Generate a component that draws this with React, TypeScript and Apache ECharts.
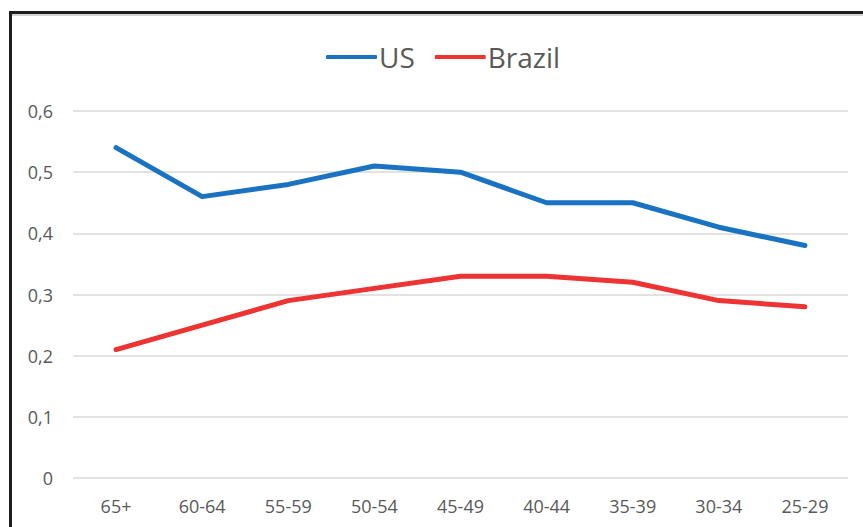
import React, { useEffect, useRef } from "react";
import * as echarts from "echarts";

const categories = ["65+", "60-64", "55-59", "50-54", "45-49", "40-44", "35-39", "30-34", "25-29"];
const usValues = [0.54, 0.46, 0.48, 0.51, 0.5, 0.45, 0.45, 0.41, 0.38];
const brazilValues = [0.21, 0.25, 0.29, 0.31, 0.33, 0.33, 0.32, 0.29, 0.28];
const seriesNames = ["US", "Brazil"];

export default function App() {
  const ref = useRef<HTMLDivElement>(null);
  useEffect(() => {
    if (!ref.current) return;
    const chart = echarts.init(ref.current, null, { renderer: "svg" });
    const font = "'Open Sans', 'Noto Sans', sans-serif";
    chart.setOption({
      animation: false,
      backgroundColor: "#ffffff",
      textStyle: { fontFamily: font },
      graphic: [
        { type: "rect", shape: { x: 9, y: 14, width: 860, height: 2 }, style: { fill: "#d4d4d4" }, silent: true },
        { type: "rect", shape: { x: 9, y: 11, width: 860, height: 3 }, style: { fill: "#1e1e1e" }, silent: true },
        { type: "rect", shape: { x: 9, y: 11, width: 3, height: 530 }, style: { fill: "#1e1e1e" }, silent: true },
      ],
      legend: {
        top: 38,
        left: 321,
        itemWidth: 51,
        itemHeight: 4,
        itemGap: 20,
        icon: "roundRect",
        textStyle: { fontSize: 28, color: "#595959", fontFamily: font, padding: [0, 0, 0, -3] },
        data: seriesNames,
      },
      grid: { left: 73, right: 15, top: 111, bottom: 49, containLabel: false },
      xAxis: {
        type: "category",
        data: categories,
        boundaryGap: true,
        axisLine: { show: false },
        axisTick: { show: false },
        axisLabel: { fontSize: 18, color: "#595959", margin: 19, fontFamily: font },
      },
      yAxis: {
        type: "value",
        min: 0,
        max: 0.6,
        interval: 0.1,
        axisLine: { show: false },
        axisTick: { show: false },
        splitLine: { lineStyle: { color: "#d9d9d9", width: 1.5 } },
        axisLabel: {
          fontSize: 18,
          color: "#595959",
          margin: 20,
          fontFamily: font,
          formatter: (v: number) => (v === 0 ? "0" : v.toFixed(1).replace(".", ",")),
        },
      },
      series: [
        {
          name: seriesNames[0],
          type: "line",
          data: usValues,
          symbol: "none",
          lineStyle: { color: "#1a72c2", width: 5, cap: "round", join: "round" },
          itemStyle: { color: "#1a72c2" },
        },
        {
          name: seriesNames[1],
          type: "line",
          data: brazilValues,
          symbol: "none",
          lineStyle: { color: "#ee3333", width: 5, cap: "round", join: "round" },
          itemStyle: { color: "#ee3333" },
        },
      ],
    });
    return () => chart.dispose();
  }, []);
  return (
    <div
      ref={ref}
      style={{ position: "fixed", left: 0, top: 0, width: 863, height: 527, background: "#fff" }}
    />
  );
}
